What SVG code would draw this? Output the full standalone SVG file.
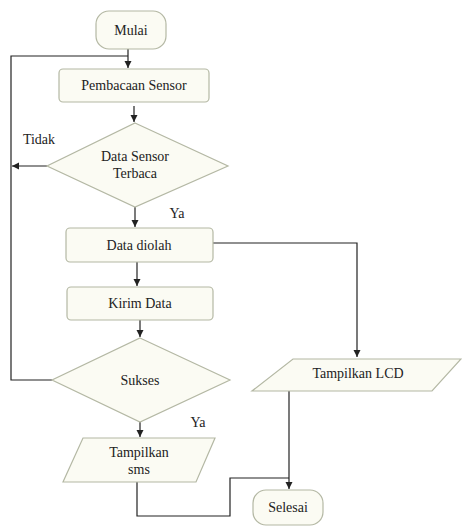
<svg xmlns="http://www.w3.org/2000/svg" width="462" height="527" viewBox="0 0 462 527">
<defs>
<marker id="ah" markerWidth="8" markerHeight="8" refX="7" refY="4" orient="auto" markerUnits="userSpaceOnUse">
<path d="M0,0.5 L7,4 L0,7.5 Z" fill="#222"/>
</marker>
<style>
.n{fill:#fbfbf3;stroke:#b4b8a4;stroke-width:1.2}
.t{font-family:"Liberation Serif","DejaVu Serif",serif;font-size:14px;fill:#222;text-anchor:middle}
.c{fill:none;stroke:#222;stroke-width:1.2}
.a{marker-end:url(#ah)}
</style>
</defs>
<rect width="462" height="527" fill="#fff"/>
<g id="connectors">
<line class="c a" x1="128" y1="49" x2="128" y2="68"/>
<polyline class="c" points="128,56 11,56 11,380 52,380"/>
<line class="c a" x1="134" y1="106" x2="134" y2="122"/>
<line class="c a" x1="47" y1="166" x2="12" y2="166"/>
<line class="c a" x1="135" y1="207" x2="135" y2="227"/>
<polyline class="c a" points="213,243 357,243 357,357"/>
<line class="c a" x1="137" y1="262" x2="137" y2="286"/>
<line class="c a" x1="140" y1="320" x2="140" y2="337"/>
<line class="c a" x1="140" y1="422" x2="140" y2="437"/>
<polyline class="c" points="137,482 137,516 230,516 230,478 289,478"/>
<line class="c a" x1="289" y1="391" x2="289" y2="489"/>
</g>
<g id="mulai"><rect class="n" x="96" y="11" width="70" height="38" rx="13"/><text class="t" x="131" y="35">Mulai</text></g>
<g id="pembacaan"><rect class="n" x="59" y="69" width="150" height="33" rx="4"/><text class="t" x="134" y="90">Pembacaan Sensor</text></g>
<g id="cek-sensor"><polygon class="n" points="135,123 228,166 135,207 47,166"/><text class="t" x="135" y="161">Data Sensor</text><text class="t" x="135" y="178">Terbaca</text></g>
<g id="label-tidak"><text class="t" x="39" y="144">Tidak</text></g>
<g id="label-ya1"><text class="t" x="177" y="218">Ya</text></g>
<g id="data-diolah"><rect class="n" x="66" y="228" width="147" height="34" rx="4"/><text class="t" x="139" y="250">Data diolah</text></g>
<g id="kirim-data"><rect class="n" x="67" y="287" width="146" height="33" rx="4"/><text class="t" x="140" y="308">Kirim Data</text></g>
<g id="sukses"><polygon class="n" points="140,338 230,380 140,422 52,380"/><text class="t" x="140" y="385">Sukses</text></g>
<g id="label-ya2"><text class="t" x="198" y="427">Ya</text></g>
<g id="tampilkan-sms"><polygon class="n" points="83,438 215,438 196,482 63,482"/><text class="t" x="139" y="457">Tampilkan</text><text class="t" x="139" y="474">sms</text></g>
<g id="tampilkan-lcd"><polygon class="n" points="293,359 461,359 432,391 252,391"/><text class="t" x="358" y="378">Tampilkan LCD</text></g>
<g id="selesai"><rect class="n" x="253" y="490" width="70" height="35" rx="13"/><text class="t" x="288" y="512">Selesai</text></g>
</svg>
